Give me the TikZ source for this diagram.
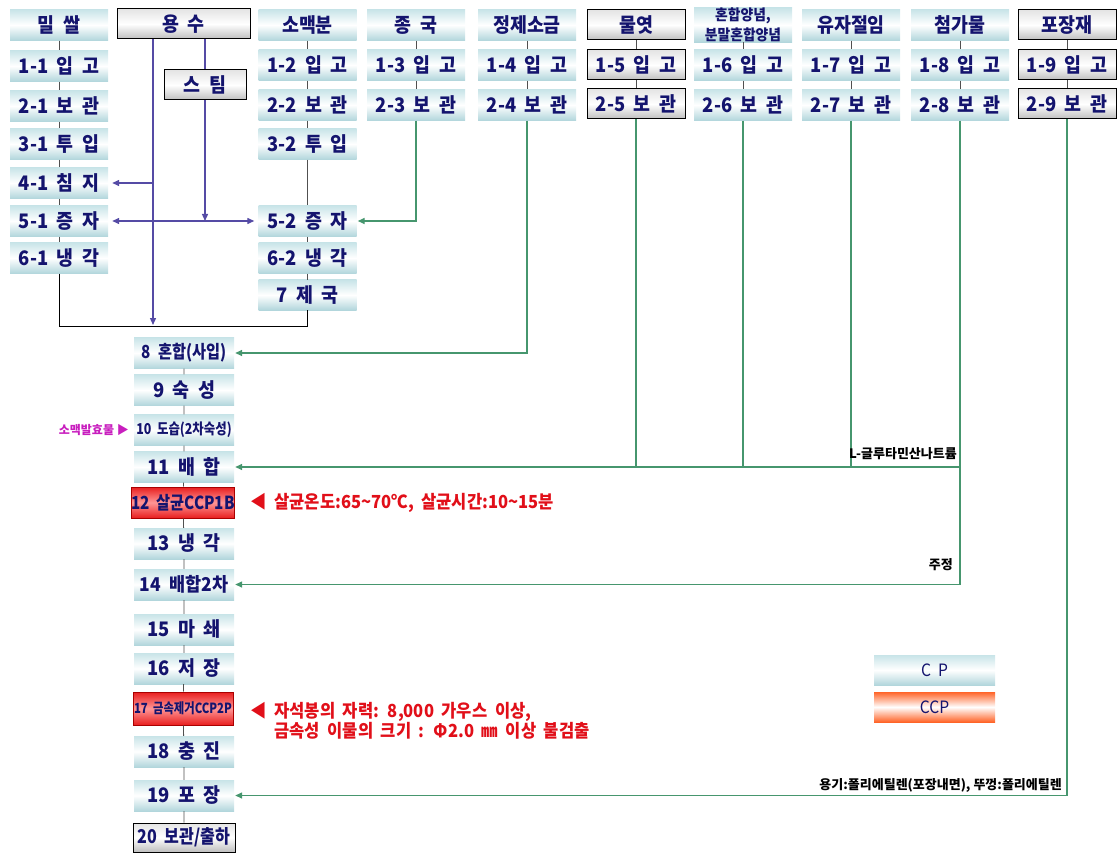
\documentclass[tikz,border=0pt]{standalone}
\usepackage{fontspec}
\setmainfont{Noto Sans CJK KR}[FakeStretch=0.92,WordSpace=2]
\newfontfamily\krw{Noto Sans CJK KR}
\usetikzlibrary{arrows.meta}
\definecolor{navy}{RGB}{20,20,110}
\definecolor{cyt}{RGB}{200,228,232}
\definecolor{cyb}{RGB}{178,214,220}
\definecolor{gryt}{RGB}{228,228,228}
\definecolor{gryb}{RGB}{190,190,190}
\definecolor{rdt}{RGB}{232,30,30}
\definecolor{rdm}{RGB}{255,150,150}
\definecolor{rdd}{RGB}{170,0,0}
\definecolor{purp}{RGB}{85,75,165}
\definecolor{grn}{RGB}{70,150,110}
\definecolor{lnk}{RGB}{80,80,80}
\definecolor{mag}{RGB}{200,30,190}
\definecolor{redtxt}{RGB}{225,15,25}
\definecolor{orng}{RGB}{255,100,40}
\begin{document}
\begin{tikzpicture}[x=1pt,y=-1pt,
  box/.style={inner sep=0pt,minimum width=98pt,minimum height=31pt,
    top color=cyt,bottom color=cyb,middle color=white,text=navy,
    font=\bfseries\fontsize{20}{20}\selectfont},
  bbox/.style={box,draw=black,line width=1pt,top color=gryt,bottom color=gryb,middle color=white},
  rbox/.style={box,draw=rdd,line width=1pt,top color=rdt,bottom color=rdt,middle color=rdm},
  obox/.style={box,minimum width=121pt,minimum height=30pt,top color=orng,bottom color=orng,middle color=white},
  lg/.style={box,minimum width=121pt,minimum height=30pt},
  tip/.style={-{Triangle[length=7pt,width=6pt]}},
  pl/.style={draw=purp,line width=1.3pt},
  pa/.style={pl,tip,shorten >=4pt},
  gl/.style={draw=grn,line width=1.4pt},
  ga/.style={gl,tip,shorten >=1pt},
  cn/.style={draw=lnk,line width=0.8pt},
  bl/.style={draw=black,line width=1pt},
  lab/.style={inner sep=0pt,font=\krw\bfseries\fontsize{13}{13}\selectfont},
  note/.style={inner sep=0pt,text=redtxt,align=left,font=\bfseries\fontsize{18}{20}\selectfont}
]
\useasboundingbox (0,0) rectangle (1117,853);
% headers
\node[box] (h1) at (59,25) {밀 쌀};
\node[bbox,minimum width=133pt,minimum height=30pt] (h2) at (183.5,24) {용 수};
\node[box] (h3) at (307.5,25) {소맥분};
\node[box] (h4) at (416,25) {종 국};
\node[box] (h5) at (527,25) {정제소금};
\node[bbox,minimum height=30pt] (h6) at (636,25) {물엿};
\node[box,align=center] (h7) at (743,25) {\fontsize{15}{14}\selectfont 혼합양념,\\\fontsize{15}{14}\selectfont 분말혼합양념};
\node[box] (h8) at (851,25) {유자절임};
\node[box] (h9) at (960,25) {첨가물};
\node[bbox,minimum height=30pt] (h10) at (1067,25) {포장재};
% column 1
\node[box] (a11) at (59,66) {1-1 입 고};
\node[box] (a21) at (59,106) {2-1 보 관};
\node[box] (a31) at (59,144) {3-1 투 입};
\node[box] (a41) at (59,183) {4-1 침 지};
\node[box] (a51) at (59,221) {5-1 증 자};
\node[box] (a61) at (59,258) {6-1 냉 각};
% steam
\node[bbox,minimum width=82pt,minimum height=30pt] (st) at (205,85) {스 팀};
% column 3
\node[box] (a12) at (307.5,65) {1-2 입 고};
\node[box] (a22) at (307.5,105) {2-2 보 관};
\node[box] (a32) at (307.5,144) {3-2 투 입};
\node[box] (a52) at (307.5,221) {5-2 증 자};
\node[box] (a62) at (307.5,258) {6-2 냉 각};
\node[box,minimum height=30pt] (a72) at (307.5,295) {7 제 국};
% other columns
\node[box] (b13) at (416,65) {1-3 입 고};
\node[box] (b23) at (416,105) {2-3 보 관};
\node[box] (b14) at (527,65) {1-4 입 고};
\node[box] (b24) at (527,105) {2-4 보 관};
\node[bbox,minimum height=30pt] (b15) at (636,65) {1-5 입 고};
\node[bbox,minimum height=30pt] (b25) at (636,104) {2-5 보 관};
\node[box] (b16) at (743,65) {1-6 입 고};
\node[box] (b26) at (743,105) {2-6 보 관};
\node[box] (b17) at (851,65) {1-7 입 고};
\node[box] (b27) at (851,105) {2-7 보 관};
\node[box] (b18) at (960,65) {1-8 입 고};
\node[box] (b28) at (960,105) {2-8 보 관};
\node[bbox,minimum height=30pt] (b19) at (1067,65) {1-9 입 고};
\node[bbox,minimum height=30pt] (b29) at (1067,104) {2-9 보 관};
% main column
\node[box,minimum width=100pt,font=\bfseries\fontsize{18}{18}\selectfont] (m8) at (184,353) {\scalebox{0.92}[1]{8 혼합(사입)}};
\node[box,minimum width=100pt] (m9) at (184,390) {9 숙 성};
\node[box,minimum width=100pt,font=\bfseries\fontsize{15}{15}\selectfont] (m10) at (184,430) {\scalebox{0.9}[1]{10 도습(2차숙성)}};
\node[box,minimum width=100pt] (m11) at (184,467) {11 배 합};
\node[rbox,minimum width=100pt,font=\bfseries\fontsize{18}{18}\selectfont] (m12) at (183,502.5) {\scalebox{0.92}[1]{12 살균CCP1B}};
\node[box,minimum width=100pt] (m13) at (184,543.5) {13 냉 각};
\node[box,minimum width=100pt,font=\bfseries\fontsize{19}{19}\selectfont] (m14) at (184,584.5) {14 배합2차};
\node[box,minimum width=100pt] (m15) at (184,629.5) {15 마 쇄};
\node[box,minimum width=100pt] (m16) at (184,668.5) {16 저 장};
\node[rbox,minimum width=100pt,minimum height=33pt,font=\bfseries\fontsize{14}{14}\selectfont] (m17) at (183,708.5) {\scalebox{0.88}[1]{17 금속제거CCP2P}};
\node[box,minimum width=100pt] (m18) at (184,751.5) {18 충 진};
\node[box,minimum width=100pt] (m19) at (184,795.5) {19 포 장};
\node[bbox,minimum width=102pt,minimum height=29pt,font=\bfseries\fontsize{19}{19}\selectfont] (m20) at (184,837.5) {\scalebox{0.92}[1]{20 보관/출하}};
% legend
\node[lg,font=\fontsize{17}{17}\selectfont] (cp) at (934.5,670) {C P};
\node[obox,font=\fontsize{17}{17}\selectfont] (ccp) at (934.5,707) {CCP};
% connectors
\draw[cn] (h1) -- (a11) (a11) -- (a21) (a21) -- (a31) (a31) -- (a41) (a41) -- (a51) (a51) -- (a61);
\draw[cn] (h3) -- (a12) (a12) -- (a22) (a22) -- (a32) (a32) -- (a52) (a52) -- (a62) (a62) -- (a72);
\draw[cn] (h4) -- (b13) (b13) -- (b23) (h5) -- (b14) (b14) -- (b24)
          (h6) -- (b15) (b15) -- (b25) (h7) -- (b16) (b16) -- (b26)
          (h8) -- (b17) (b17) -- (b27) (h9) -- (b18) (b18) -- (b28)
          (h10) -- (b19) (b19) -- (b29);
\draw[cn] (m8) -- (m9) (m9) -- (m10) (m10) -- (m11) (m11) -- (m12) (m12) -- (m13)
          (m13) -- (m14) (m14) -- (m15) (m15) -- (m16) (m16) -- (m17) (m17) -- (m18)
          (m18) -- (m19) (m19) -- (m20);
% black joining line
\coordinate (jm) at (307.5,326);
\draw[bl] (a61.south) |- (jm) -- (a72.south);
% water lines
\coordinate (wa) at (153,325);
\coordinate (wb) at (153,183);
\coordinate (sa) at (205,221);
\draw[pl,tip] (h2.south -| wa) -- (wa);
\draw[pa] (wb) -- (a41.east);
\draw[pl] (h2.south -| sa) -- (st.north);
\draw[pl,tip] (st.south) -- (sa);
\draw[pa] (sa) -- (a51.east);
\draw[pa] (sa) -- (a52.west);
% green lines
\draw[ga] (b23.south) |- (a52.east);
\draw[ga] (b24.south) |- (m8.east);
\draw[gl] (b25.south) -- (b25.south |- m11.east);
\draw[gl] (b26.south) -- (b26.south |- m11.east);
\draw[gl] (b27.south) -- (b27.south |- m11.east);
\draw[gl] (b28.south) -- (b28.south |- m14.east);
\draw[ga] (b28.south |- m11.east) -- (m11.east);
\draw[ga] (b28.south |- m14.east) -- (m14.east);
\draw[ga] (b29.south) |- (m19.east);
% labels
\node[lab,anchor=east,text=mag,font=\krw\bfseries\fontsize{12}{12}\selectfont] (lb10) at (129,430) {소맥발효물 ▶};
\node[lab,anchor=east] (lbg) at (957,454) {L-글루타민산나트륨};
\node[lab,anchor=east] (lbj) at (953,565) {주정};
\node[lab,anchor=east] (lbp) at (1062,785) {용기:폴리에틸렌(포장내면), 뚜껑:폴리에틸렌};
\node[note,anchor=west] (n12) at (250,503) {◀ 살균온도:65\textasciitilde 70℃, 살균시간:10\textasciitilde 15분};
\node[note,anchor=west] (n17) at (250,721) {◀ 자석봉의 자력: 8,000 가우스 이상,\\\phantom{◀ }금속성 이물의 크기 : Φ2.0 ㎜ 이상 불검출};
\end{tikzpicture}
\end{document}
